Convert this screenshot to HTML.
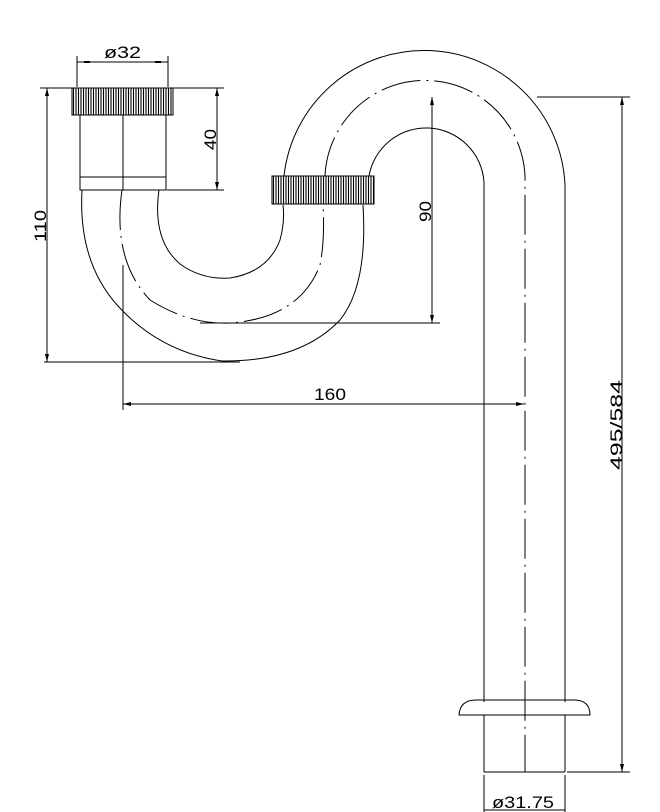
<!DOCTYPE html>
<html><head><style>html,body{margin:0;padding:0;background:#fff}svg{display:block}</style></head>
<body>
<svg width="660" height="812" viewBox="0 0 660 812" xmlns="http://www.w3.org/2000/svg">
<defs>
<pattern id="kn" width="2.5" height="30" patternUnits="userSpaceOnUse"><rect width="2.5" height="30" fill="#fff"/><line x1="1" y1="0" x2="1" y2="30" stroke="#000" stroke-width="1.1"/></pattern>
</defs>
<g fill="none" stroke="#000" stroke-width="1">
<rect x="72" y="88" width="101" height="27" fill="url(#kn)"/>
<rect x="80" y="115" width="86" height="75"/>
<line x1="80" y1="177" x2="166" y2="177"/>
<line x1="123" y1="115" x2="123" y2="190"/>
<path d="M82,190 Q78,262 118,306 Q160,352 222,361 Q300,362 340,320 Q368,285 363,205"/>
<path d="M159,190 Q152,240 180,264 Q202,280 230,278 Q268,272 280,240 Q285,222 283,205"/>
<path d="M122,190 Q112,260 150,300 Q190,325 230,323 Q300,318 320,265 Q325,240 323,205" stroke-dasharray="40,6,2,6"/>
<rect x="272" y="176" width="102" height="28" fill="url(#kn)"/>
<path d="M284,176 A141,141 0 0 1 565,185 L565,702"/>
<path d="M369,176 A58,58 0 0 1 484,182 L484,702"/>
<path d="M325,176 A100,100 0 0 1 525,185 L525,772" stroke-dasharray="40,6,2,6"/>
<path d="M459,715 Q460,700 476,700 L574,700 Q590,700 590,715 Z"/>
<line x1="484" y1="715" x2="484" y2="772"/>
<line x1="565" y1="715" x2="565" y2="772"/>
<line x1="484" y1="772" x2="565" y2="772"/>
<line x1="77" y1="56" x2="77" y2="87"/><line x1="168" y1="56" x2="168" y2="87"/>
<line x1="77" y1="62" x2="168" y2="62"/>
<line x1="173" y1="88" x2="224" y2="88"/><line x1="167" y1="190" x2="224" y2="190"/>
<line x1="217" y1="88" x2="217" y2="190"/>
<line x1="40" y1="88" x2="72" y2="88"/><line x1="44" y1="362" x2="240" y2="362"/>
<line x1="47" y1="88" x2="47" y2="362"/>
<line x1="123" y1="265" x2="123" y2="410"/>
<line x1="123" y1="404" x2="524" y2="404"/>
<line x1="200" y1="323" x2="440" y2="323"/>
<line x1="432" y1="97" x2="432" y2="323"/>
<line x1="537" y1="97" x2="630" y2="97"/><line x1="567" y1="772" x2="630" y2="772"/>
<line x1="622" y1="97" x2="622" y2="772"/>
<line x1="484" y1="775" x2="484" y2="812"/><line x1="565" y1="775" x2="565" y2="812"/>
<line x1="484" y1="810" x2="565" y2="810"/>
</g>
<g fill="#000">
<rect x="84" y="61" width="6" height="2"/><rect x="155" y="61" width="6" height="2"/>
<polygon points="217,88 215,96 219,96"/><polygon points="217,190 215,182 219,182"/>
<polygon points="47,88 45,96 49,96"/><polygon points="47,362 45,354 49,354"/>
<polygon points="123,404 131,402 131,406"/><polygon points="524,404 516,402 516,406"/>
<polygon points="432,97 430,105 434,105"/><polygon points="432,323 430,315 434,315"/>
<polygon points="622,97 620,105 624,105"/><polygon points="622,772 620,764 624,764"/>
</g>
<g font-family="Liberation Sans, sans-serif" font-size="17" fill="#000">
<text x="104" y="58" textLength="37" lengthAdjust="spacingAndGlyphs">ø32</text>
<text x="314" y="400" textLength="32" lengthAdjust="spacingAndGlyphs">160</text>
<text x="492" y="808" textLength="62" lengthAdjust="spacingAndGlyphs">ø31.75</text>
<text transform="translate(216,150) rotate(-90)" textLength="21" lengthAdjust="spacingAndGlyphs">40</text>
<text transform="translate(46,242) rotate(-90)" textLength="32" lengthAdjust="spacingAndGlyphs">110</text>
<text transform="translate(431,222) rotate(-90)" textLength="21" lengthAdjust="spacingAndGlyphs">90</text>
<text transform="translate(622,470) rotate(-90)" textLength="90" lengthAdjust="spacingAndGlyphs">495/584</text>
</g>
</svg>
</body></html>
